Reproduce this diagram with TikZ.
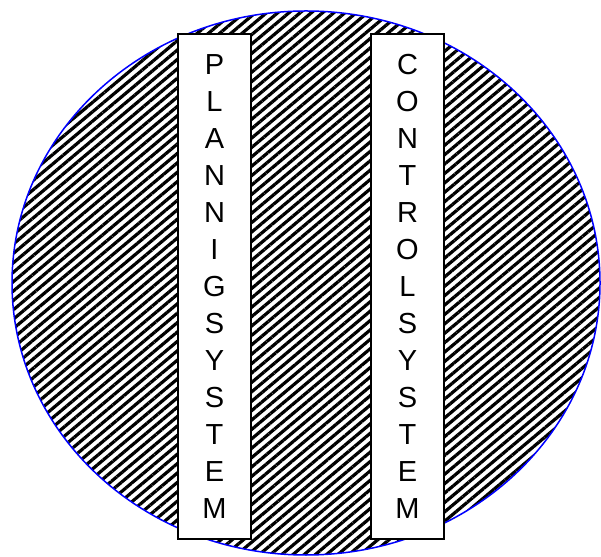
\documentclass[tikz,border=0pt]{standalone}
\usepackage{fontspec}
\setmainfont{Liberation Sans}
\usetikzlibrary{patterns.meta,shapes.geometric}

\begin{document}
\begin{tikzpicture}[
  x=1pt,y=1pt,
  hatch/.style={ellipse,draw=blue,line width=1.5pt,inner sep=0pt,
    pattern={Lines[angle=40,distance=7.2pt,line width=3.2pt]},pattern color=black,
    minimum width=588pt,minimum height=544pt},
  column/.style={rectangle,draw,line width=1.3pt,fill=white,align=center,inner sep=0pt,
    minimum width=73pt,minimum height=505pt,font=\fontsize{29}{37}\selectfont}
]
\useasboundingbox (0,0) rectangle (601,556);
\node[hatch] (world) at (306,273) {};
\node[column] (plan) at (214.5,269.5) {P\\L\\A\\N\\N\\I\\G\\S\\Y\\S\\T\\E\\M};
\node[column] (ctrl) at (407.5,269.5) {C\\O\\N\\T\\R\\O\\L\\S\\Y\\S\\T\\E\\M};
\end{tikzpicture}
\end{document}
